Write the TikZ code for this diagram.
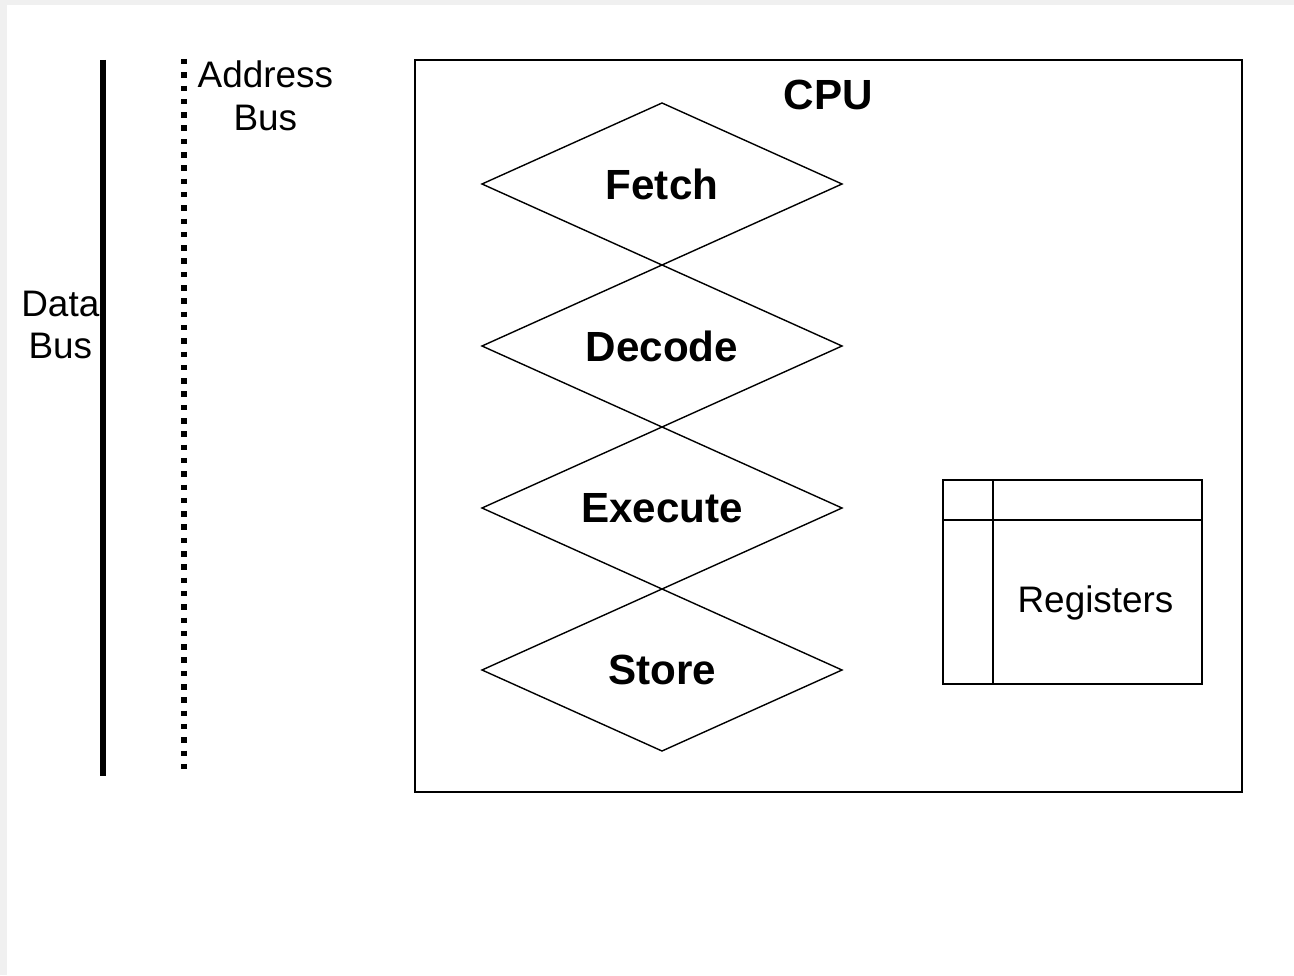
\documentclass[tikz,border=0pt]{standalone}
\usepackage{fontspec}
\setmainfont{Liberation Sans}
\usetikzlibrary{positioning,shapes.geometric}
\tikzset{
	stage/.style = {
			draw, thin, diamond, aspect=2.22,
			minimum width = 3.6cm,
			minimum height = 1.62cm,
			inner sep = 0pt,
			outer sep = 0pt,
			font = \fontsize{12}{14}\selectfont\bfseries,
		},
	label/.style = {
			align = center,
			inner sep = 0pt,
			font = \fontsize{10.5}{12.2}\selectfont,
		},
	box/.style = {
			draw, line width=0.6pt, rectangle, inner sep=0pt, outer sep=0pt,
		}
}
\begin{document}
\begin{tikzpicture}
						\fill[black!6] (0,0) rectangle (12.94,9.75);
						\fill[white] (0.07,0) rectangle (12.94,9.70);
						\useasboundingbox (0,0) rectangle (12.94,9.75);

						\coordinate (datatop) at (1.03,9.15);
						\coordinate (databot) at (1.03,1.99);
						\draw[line width=0.06cm] (datatop) -- (databot);
						\node[label, anchor=east] at (1.00,6.50) (datalabel) {Data\\Bus};

						\coordinate (addrtop) at (1.84,9.16);
						\coordinate (addrbot) at (1.84,2.05);
						\draw[line width=0.055cm, dash pattern=on 0.055cm off 0.078cm] (addrtop) -- (addrbot);
						\node[label, anchor=west] at (1.97,8.79) (addrlabel) {Address\\Bus};

						\node[box, minimum width=8.27cm, minimum height=7.32cm] at (8.285,5.49) (cpu) {};
						\node[below=0.19cm of cpu.north, inner sep=0pt, font=\fontsize{12}{14}\selectfont\bfseries] (cpulabel) {CPU};

						\node[stage] at (6.62,7.91) (fetch) {Fetch};
						\node[stage, below=0pt of fetch] (decode) {Decode};
						\node[stage, below=0pt of decode] (execute) {Execute};
						\node[stage, below=0pt of execute] (store) {Store};

						\node[box, minimum width=2.59cm, minimum height=2.04cm] at (10.725,3.93) (regs) {};
						\draw[line width=0.6pt] ([xshift=0.5cm]regs.north west) -- ([xshift=0.5cm]regs.south west);
						\draw[line width=0.6pt] ([yshift=-0.4cm]regs.north west) -- ([yshift=-0.4cm]regs.north east);
						\node[label] at (10.955,3.72) (regslabel) {Registers};
					\end{tikzpicture}
\end{document}
